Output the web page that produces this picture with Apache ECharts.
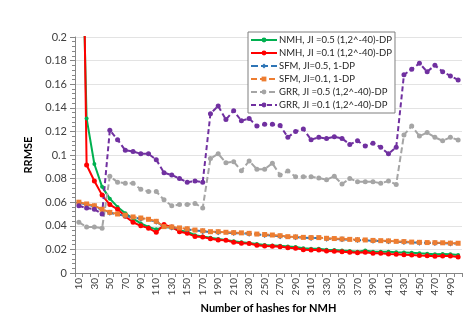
<!DOCTYPE html>
<html>
<head>
<meta charset="utf-8">
<script src="https://cdn.jsdelivr.net/npm/echarts@6/dist/echarts.min.js"></script>
<style>
  html, body { margin: 0; padding: 0; background: #fff; }
  #main { width: 465px; height: 329px; }
</style>
</head>
<body>
<div id="main"></div>
<script>
// number of hashes 10..500
var hashes = [];
for (var h = 10; h <= 500; h += 10) hashes.push(String(h));

var seriesNames = [
  'NMH, JI =0.5 (1,2^-40)-DP',
  'NMH, JI =0.1 (1,2^-40)-DP',
  'SFM, JI=0.5, 1-DP',
  'SFM, JI=0.1, 1-DP',
  'GRR, JI =0.5 (1,2^-40)-DP',
  'GRR, JI =0.1 (1,2^-40)-DP'
];

var nmh05 = [0.40, 0.131, 0.0924, 0.073, 0.063, 0.056, 0.0506, 0.046, 0.042, 0.039,
  0.037, 0.039, 0.0385, 0.036, 0.035, 0.032, 0.031, 0.0298, 0.0288, 0.028,
  0.027, 0.026, 0.0255, 0.0245, 0.0238, 0.0234, 0.023, 0.0225, 0.022, 0.021,
  0.0205, 0.0205, 0.0198, 0.0195, 0.019, 0.0186, 0.018, 0.019, 0.018, 0.018,
  0.018, 0.0175, 0.0174, 0.0172, 0.0167, 0.0163, 0.0158, 0.0161, 0.0158, 0.0153];

var nmh01 = [0.55, 0.0915, 0.078, 0.066, 0.058, 0.054, 0.048, 0.043, 0.040, 0.038,
  0.0345, 0.041, 0.039, 0.035, 0.0336, 0.031, 0.0305, 0.029, 0.028, 0.0278,
  0.026, 0.0252, 0.025, 0.0235, 0.0228, 0.0226, 0.0223, 0.0215, 0.0209, 0.0198,
  0.0195, 0.0195, 0.0186, 0.0185, 0.018, 0.0175, 0.0172, 0.0175, 0.0167, 0.0167,
  0.0161, 0.0158, 0.0155, 0.0153, 0.0148, 0.0147, 0.0142, 0.0144, 0.0144, 0.0136];

var sfm05 = [0.0595, 0.058, 0.0565, 0.0535, 0.051, 0.0495, 0.0485, 0.047, 0.046, 0.045,
  0.0435, 0.039, 0.0386, 0.0378, 0.037, 0.036, 0.0354, 0.0347, 0.0346, 0.0341,
  0.0338, 0.0336, 0.0332, 0.0326, 0.0322, 0.0318, 0.0312, 0.0305, 0.0303, 0.0299,
  0.0297, 0.0296, 0.0291, 0.0289, 0.0285, 0.0282, 0.0279, 0.0277, 0.0273, 0.0271,
  0.0269, 0.0265, 0.0263, 0.0259, 0.0257, 0.0255, 0.0254, 0.0253, 0.025, 0.0249];

var sfm01 = [0.060, 0.0585, 0.057, 0.054, 0.0514, 0.050, 0.049, 0.0475, 0.0466, 0.0455,
  0.0438, 0.0393, 0.039, 0.0382, 0.0375, 0.0364, 0.0358, 0.035, 0.035, 0.0345,
  0.0342, 0.034, 0.0336, 0.033, 0.0326, 0.0322, 0.0316, 0.0308, 0.0306, 0.0302,
  0.030, 0.030, 0.0294, 0.0292, 0.0288, 0.0285, 0.0282, 0.028, 0.0276, 0.0274,
  0.0272, 0.0268, 0.0266, 0.0262, 0.026, 0.0258, 0.0257, 0.0256, 0.0253, 0.0252];

var grr05 = [0.043, 0.039, 0.039, 0.038, 0.082, 0.077, 0.076, 0.076, 0.071, 0.069,
  0.069, 0.062, 0.057, 0.058, 0.058, 0.059, 0.055, 0.097, 0.101, 0.0935,
  0.0943, 0.0867, 0.095, 0.088, 0.088, 0.093, 0.083, 0.0864, 0.0816, 0.0816,
  0.0816, 0.0805, 0.079, 0.082, 0.0754, 0.080, 0.0774, 0.0774, 0.0774, 0.076,
  0.078, 0.075, 0.117, 0.1246, 0.116, 0.119, 0.115, 0.112, 0.115, 0.1127];

var grr01 = [0.057, 0.055, 0.054, 0.050, 0.121, 0.113, 0.104, 0.103, 0.101, 0.101,
  0.096, 0.085, 0.083, 0.080, 0.077, 0.078, 0.077, 0.135, 0.1415, 0.130,
  0.1375, 0.129, 0.131, 0.1245, 0.126, 0.126, 0.125, 0.115, 0.120, 0.122,
  0.113, 0.115, 0.114, 0.1155, 0.114, 0.109, 0.112, 0.1076, 0.110, 0.1065,
  0.101, 0.1065, 0.168, 0.1726, 0.1777, 0.1706, 0.176, 0.1706, 0.167, 0.1636];

var colors = ['#00b050', '#ff0000', '#2e75b6', '#ed7d31', '#a5a5a5', '#7030a0'];
var font = 'Lato, "Liberation Sans", sans-serif';

function mkLine(i, data, symbol, size, dash) {
  return {
    name: seriesNames[i],
    type: 'line',
    data: data,
    symbol: symbol,
    symbolSize: size,
    clip: true,
    itemStyle: { color: colors[i] },
    lineStyle: { color: colors[i], width: 2, type: dash },
    emphasis: { disabled: true }
  };
}

var chart = echarts.init(document.getElementById('main'));
var option = {
  animation: false,
  backgroundColor: '#fff',
  textStyle: { fontFamily: font },
  grid: { left: 75, right: 3, top: 37, bottom: 56, containLabel: false },
  legend: {
    orient: 'vertical',
    left: 248,
    top: 32,
    itemWidth: 26,
    itemHeight: 6,
    itemGap: 1,
    padding: [2, 3, 2, 2],
    borderColor: '#7f7f7f',
    borderWidth: 1,
    backgroundColor: '#fff',
    textStyle: { fontSize: 9.5, lineHeight: 12, color: '#262626', fontFamily: font, padding: [0, 0, 0, -3] },
    data: seriesNames
  },
  xAxis: {
    type: 'category',
    data: hashes,
    boundaryGap: true,
    name: 'Number of hashes for NMH',
    nameLocation: 'middle',
    nameGap: 27,
    nameTextStyle: { fontSize: 11, fontWeight: 'bold', color: '#000', fontFamily: font },
    axisLine: { lineStyle: { color: '#868686' } },
    axisTick: { show: true, interval: 0, length: 4, lineStyle: { color: '#868686' } },
    axisLabel: { interval: 1, rotate: 90, fontSize: 10, color: '#404040', margin: 5 },
    splitLine: { show: false }
  },
  yAxis: {
    type: 'value',
    min: 0,
    max: 0.2,
    interval: 0.02,
    name: 'RRMSE',
    nameLocation: 'middle',
    nameGap: 38,
    nameTextStyle: { fontSize: 11, fontWeight: 'bold', color: '#000', fontFamily: font },
    axisLine: { show: true, lineStyle: { color: '#868686' } },
    axisTick: { show: true, length: 5, lineStyle: { color: '#868686' } },
    minorTick: { show: true, splitNumber: 5, length: 3, lineStyle: { color: '#868686' } },
    axisLabel: { fontSize: 11, color: '#404040', margin: 8 },
    splitLine: { show: true, lineStyle: { color: '#e3e3e3' } }
  },
  series: [
    mkLine(0, nmh05, 'circle', 4, 'solid'),
    mkLine(1, nmh01, 'circle', 5, 'solid'),
    mkLine(2, sfm05, 'diamond', 6, [7, 3]),
    mkLine(3, sfm01, 'rect', 5, [6, 3]),
    mkLine(4, grr05, 'circle', 5, [6, 3]),
    mkLine(5, grr01, 'circle', 5, [5, 3])
  ]
};
chart.setOption(option);
window.addEventListener('resize', function () { chart.resize(); });
</script>
</body>
</html>
